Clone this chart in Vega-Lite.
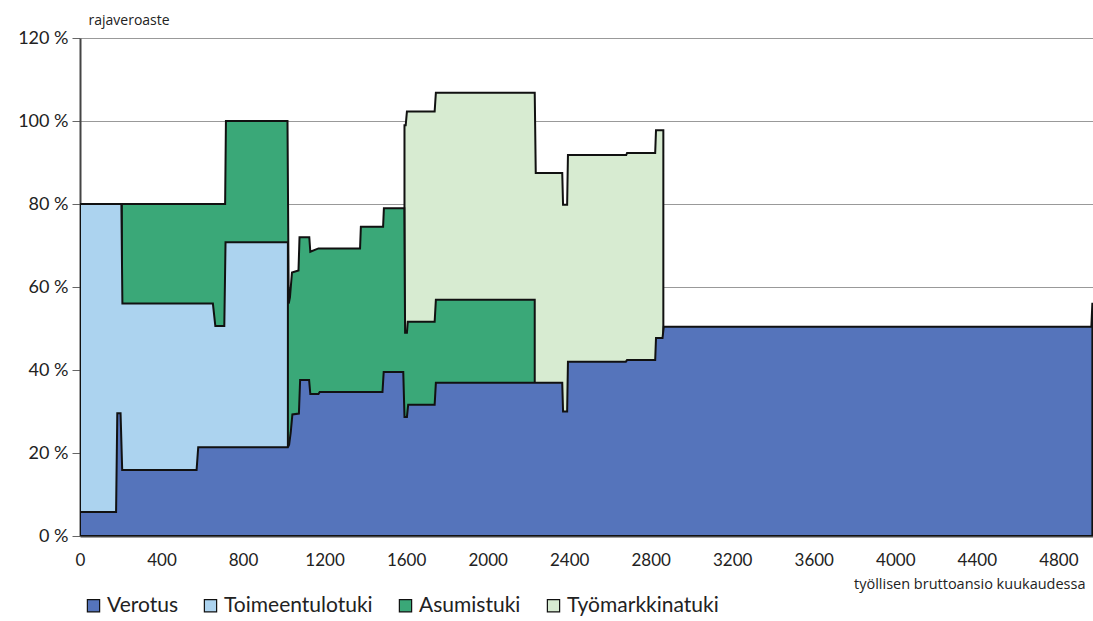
{
  "$schema": "https://vega.github.io/schema/vega-lite/v6.json",
  "width": 1013,
  "height": 498,
  "autosize": {"type": "none"},
  "padding": {"left": 80, "top": 38, "right": 0, "bottom": 85},
  "background": "white",
  "config": {
    "view": {"stroke": null},
    "font": "Lato"
  },
  "data": {
    "values": [
      {"s": "Työmarkkinatuki", "x": 1592, "y": 99},
      {"s": "Työmarkkinatuki", "x": 1598, "y": 99},
      {"s": "Työmarkkinatuki", "x": 1604, "y": 102.3},
      {"s": "Työmarkkinatuki", "x": 1740, "y": 102.3},
      {"s": "Työmarkkinatuki", "x": 1746, "y": 106.8},
      {"s": "Työmarkkinatuki", "x": 2231, "y": 106.8},
      {"s": "Työmarkkinatuki", "x": 2236, "y": 87.5},
      {"s": "Työmarkkinatuki", "x": 2366, "y": 87.5},
      {"s": "Työmarkkinatuki", "x": 2370, "y": 79.8},
      {"s": "Työmarkkinatuki", "x": 2390, "y": 79.8},
      {"s": "Työmarkkinatuki", "x": 2394, "y": 91.8},
      {"s": "Työmarkkinatuki", "x": 2680, "y": 91.8},
      {"s": "Työmarkkinatuki", "x": 2684, "y": 92.3},
      {"s": "Työmarkkinatuki", "x": 2822, "y": 92.3},
      {"s": "Työmarkkinatuki", "x": 2826, "y": 97.8},
      {"s": "Työmarkkinatuki", "x": 2862, "y": 97.8},

      {"s": "Asumistuki", "x": 205, "y": 80},
      {"s": "Asumistuki", "x": 712, "y": 80},
      {"s": "Asumistuki", "x": 716, "y": 100},
      {"s": "Asumistuki", "x": 1018, "y": 100},
      {"s": "Asumistuki", "x": 1024, "y": 56},
      {"s": "Asumistuki", "x": 1030, "y": 57.5},
      {"s": "Asumistuki", "x": 1040, "y": 63.5},
      {"s": "Asumistuki", "x": 1072, "y": 64},
      {"s": "Asumistuki", "x": 1077, "y": 72},
      {"s": "Asumistuki", "x": 1125, "y": 72},
      {"s": "Asumistuki", "x": 1130, "y": 68.5},
      {"s": "Asumistuki", "x": 1170, "y": 69.3},
      {"s": "Asumistuki", "x": 1374, "y": 69.3},
      {"s": "Asumistuki", "x": 1378, "y": 74.5},
      {"s": "Asumistuki", "x": 1487, "y": 74.5},
      {"s": "Asumistuki", "x": 1491, "y": 79},
      {"s": "Asumistuki", "x": 1591, "y": 79},
      {"s": "Asumistuki", "x": 1595, "y": 49},
      {"s": "Asumistuki", "x": 1604, "y": 49},
      {"s": "Asumistuki", "x": 1608, "y": 51.6},
      {"s": "Asumistuki", "x": 1740, "y": 51.6},
      {"s": "Asumistuki", "x": 1746, "y": 56.9},
      {"s": "Asumistuki", "x": 2231, "y": 56.9},

      {"s": "Toimeentulotuki", "x": 0, "y": 80},
      {"s": "Toimeentulotuki", "x": 203, "y": 80},
      {"s": "Toimeentulotuki", "x": 208, "y": 56},
      {"s": "Toimeentulotuki", "x": 652, "y": 56},
      {"s": "Toimeentulotuki", "x": 664, "y": 50.6},
      {"s": "Toimeentulotuki", "x": 708, "y": 50.6},
      {"s": "Toimeentulotuki", "x": 714, "y": 70.8},
      {"s": "Toimeentulotuki", "x": 1020, "y": 70.8},

      {"s": "Verotus", "x": 0, "y": 5.8},
      {"s": "Verotus", "x": 177, "y": 5.8},
      {"s": "Verotus", "x": 183, "y": 29.6},
      {"s": "Verotus", "x": 199, "y": 29.6},
      {"s": "Verotus", "x": 207, "y": 15.9},
      {"s": "Verotus", "x": 572, "y": 15.9},
      {"s": "Verotus", "x": 580, "y": 21.4},
      {"s": "Verotus", "x": 1020, "y": 21.4},
      {"s": "Verotus", "x": 1026, "y": 22},
      {"s": "Verotus", "x": 1034, "y": 25},
      {"s": "Verotus", "x": 1042, "y": 29.3},
      {"s": "Verotus", "x": 1074, "y": 29.5},
      {"s": "Verotus", "x": 1080, "y": 37.6},
      {"s": "Verotus", "x": 1124, "y": 37.6},
      {"s": "Verotus", "x": 1130, "y": 34.2},
      {"s": "Verotus", "x": 1170, "y": 34.2},
      {"s": "Verotus", "x": 1176, "y": 34.7},
      {"s": "Verotus", "x": 1484, "y": 34.7},
      {"s": "Verotus", "x": 1490, "y": 39.5},
      {"s": "Verotus", "x": 1586, "y": 39.5},
      {"s": "Verotus", "x": 1592, "y": 28.7},
      {"s": "Verotus", "x": 1604, "y": 28.7},
      {"s": "Verotus", "x": 1610, "y": 31.6},
      {"s": "Verotus", "x": 1740, "y": 31.6},
      {"s": "Verotus", "x": 1746, "y": 36.9},
      {"s": "Verotus", "x": 2366, "y": 36.9},
      {"s": "Verotus", "x": 2370, "y": 30},
      {"s": "Verotus", "x": 2390, "y": 30},
      {"s": "Verotus", "x": 2394, "y": 42},
      {"s": "Verotus", "x": 2678, "y": 42},
      {"s": "Verotus", "x": 2684, "y": 42.4},
      {"s": "Verotus", "x": 2822, "y": 42.4},
      {"s": "Verotus", "x": 2826, "y": 47.7},
      {"s": "Verotus", "x": 2858, "y": 47.7},
      {"s": "Verotus", "x": 2864, "y": 50.4},
      {"s": "Verotus", "x": 4962, "y": 50.4},
      {"s": "Verotus", "x": 4967, "y": 56.2}
    ]
  },
  "encoding": {
    "x": {
      "field": "x",
      "type": "quantitative",
      "scale": {"domain": [0, 4970], "nice": false, "zero": false},
      "axis": {
        "values": [0, 400, 800, 1200, 1600, 2000, 2400, 2800, 3200, 3600, 4000, 4400, 4800],
        "format": "d",
        "ticks": false,
        "grid": false,
        "domainColor": "#444",
        "domainWidth": 2,
        "labelFont": "Lato",
        "labelFontSize": 17,
        "labelColor": "#222",
        "labelPadding": 16,
        "labelFlush": false,
        "title": "työllisen bruttoansio kuukaudessa",
        "titleFont": "Open Sans",
        "titleFontSize": 14.5,
        "titleFontWeight": "normal",
        "titleColor": "#222",
        "titleAnchor": "end",
        "titleAlign": "right",
        "titleBaseline": "alphabetic",
        "titleX": 1005,
        "titleY": 52
      }
    },
    "y": {
      "field": "y",
      "type": "quantitative",
      "stack": null,
      "scale": {"domain": [0, 120], "nice": false},
      "axis": {
        "values": [0, 20, 40, 60, 80, 100, 120],
        "labelExpr": "datum.value + ' %'",
        "grid": true,
        "gridColor": "#999",
        "gridWidth": 1,
        "domainColor": "#444",
        "domainWidth": 2,
        "tickColor": "#666",
        "tickSize": 8,
        "labelFont": "Lato",
        "labelFontSize": 18,
        "labelColor": "#222",
        "labelPadding": 4,
        "title": "rajaveroaste",
        "titleFont": "Open Sans",
        "titleFontSize": 14,
        "titleFontWeight": "normal",
        "titleColor": "#222",
        "titleAngle": 0,
        "titleAlign": "left",
        "titleBaseline": "alphabetic",
        "titleX": 8,
        "titleY": -14
      }
    },
    "color": {
      "field": "s",
      "type": "nominal",
      "scale": {
        "domain": ["Verotus", "Toimeentulotuki", "Asumistuki", "Työmarkkinatuki"],
        "range": ["#5574bb", "#acd3ef", "#3aa878", "#d7ebd1"]
      },
      "legend": {
        "title": null,
        "orient": "none",
        "legendX": 3,
        "legendY": 557,
        "direction": "horizontal",
        "symbolType": "square",
        "symbolSize": 150,
        "symbolStrokeColor": "#111",
        "symbolStrokeWidth": 1,
        "symbolOpacity": 1,
        "labelFont": "Lato",
        "labelFontSize": 21,
        "labelColor": "#222",
        "labelOffset": 3,
        "columnPadding": 22,
        "labelLimit": 300,
        "encode": {
          "symbols": {
            "update": {
              "stroke": {"value": "#111"},
              "strokeWidth": {"value": 1.2}
            }
          }
        }
      }
    }
  },
  "layer": [
    {
      "transform": [{"filter": "datum.s === 'Työmarkkinatuki'"}],
      "mark": {"type": "area", "stroke": "#111", "strokeWidth": 2, "opacity": 1, "clip": true}
    },
    {
      "transform": [{"filter": "datum.s === 'Asumistuki'"}],
      "mark": {"type": "area", "stroke": "#111", "strokeWidth": 2, "opacity": 1, "clip": true}
    },
    {
      "transform": [{"filter": "datum.s === 'Toimeentulotuki'"}],
      "mark": {"type": "area", "stroke": "#111", "strokeWidth": 2, "opacity": 1, "clip": true}
    },
    {
      "transform": [{"filter": "datum.s === 'Verotus'"}],
      "mark": {"type": "area", "stroke": "#111", "strokeWidth": 2, "opacity": 1, "clip": true}
    }
  ]
}
